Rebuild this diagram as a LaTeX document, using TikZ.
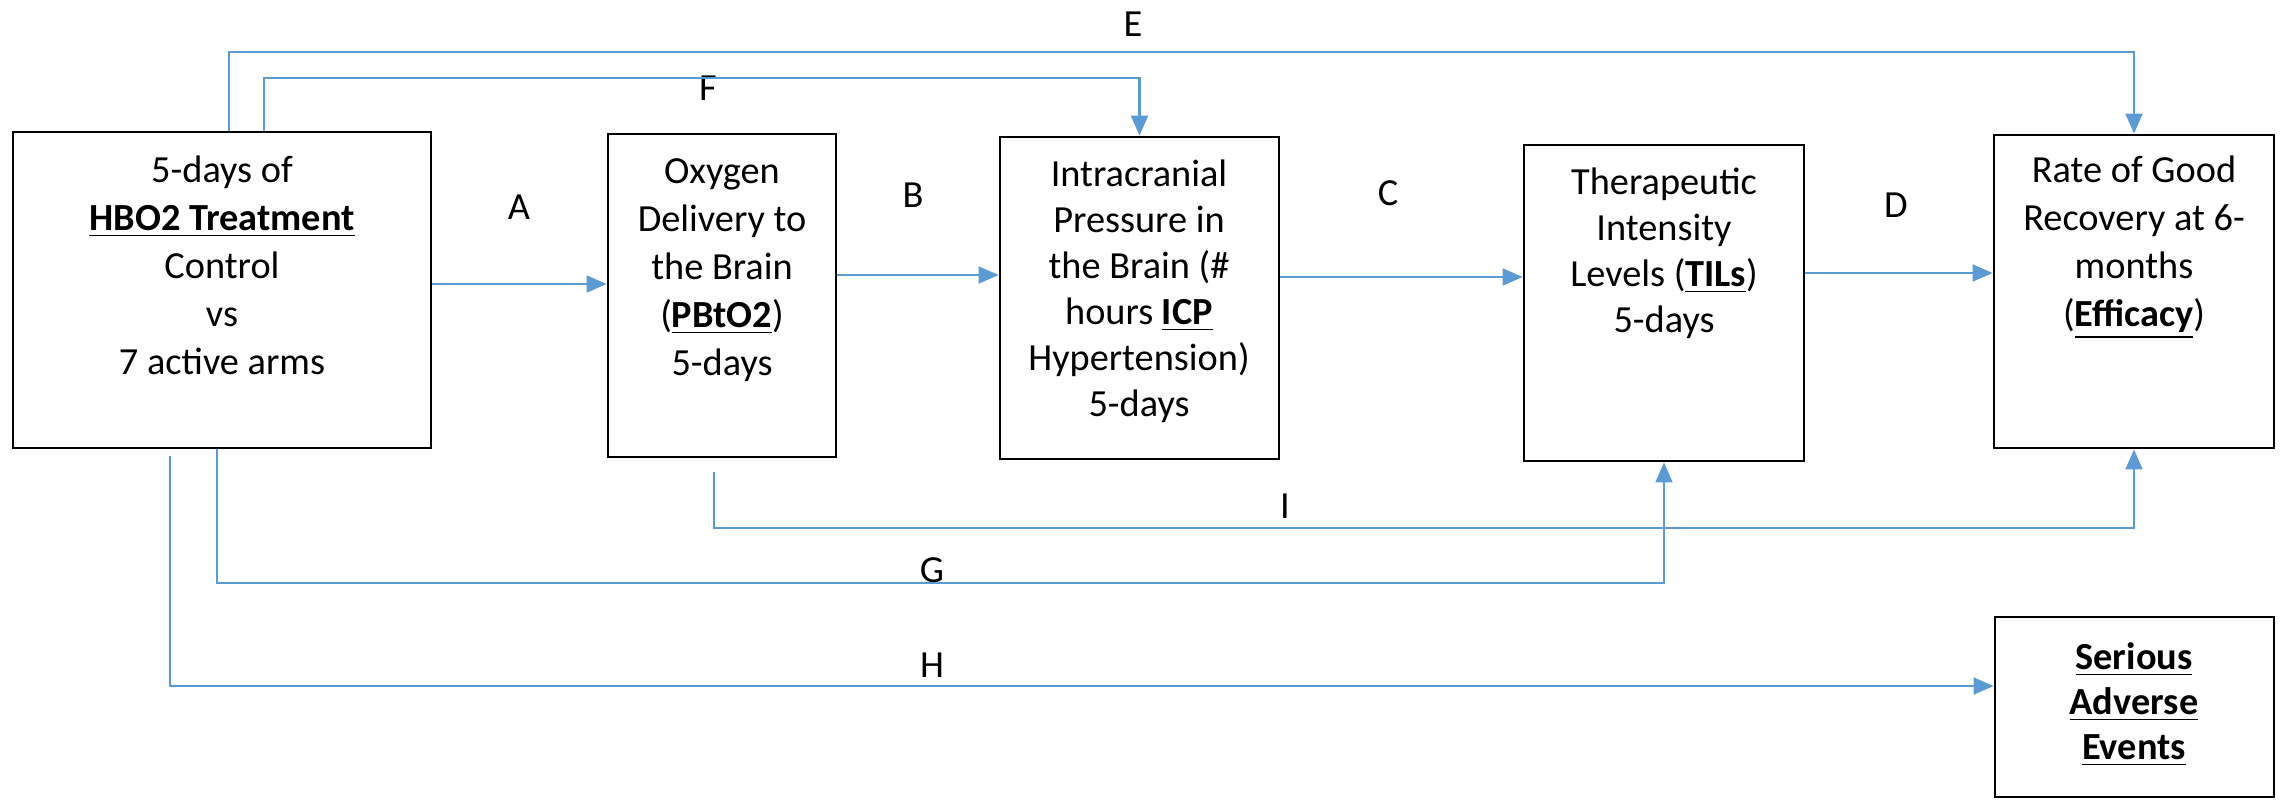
\documentclass[tikz,border=0pt]{standalone}
\usepackage{fontspec}
\setmainfont{Carlito}
\usetikzlibrary{arrows.meta,fit}
\definecolor{linkblue}{RGB}{91,155,213}
\begin{document}
\begin{tikzpicture}[x=0.3pt,y=-0.3pt,
  box/.style={draw=black,line width=0.8pt,inner sep=0pt},
  txt/.style={align=center,inner sep=0pt,anchor=north,font=\fontsize{11.5pt}{14.4pt}\selectfont},
  lbl/.style={inner sep=0pt,font=\fontsize{11.5pt}{14pt}\selectfont},
  conn/.style={draw=linkblue,line width=0.8pt},
  arr/.style={conn,-{Triangle[length=6pt,width=5pt]}}]
\fill[white] (0,0) rectangle (2280,800);
\useasboundingbox (0,0) rectangle (2280,800);

% boxes
\node[box,fit={(13,132) (431,448)}] (b1) {};
\node[box,fit={(608,134) (836,457)}] (b2) {};
\node[box,fit={(1000,137) (1279,459)}] (b3) {};
\node[box,fit={(1524,145) (1804,461)}] (b4) {};
\node[box,fit={(1994,135) (2274,448)}] (b5) {};
\node[box,fit={(1995,617) (2274,797)}] (b6) {};

% texts
\node[txt] (t1) at (222,155) {5-days of\\\underline{\textbf{HBO2 Treatment}}\\Control\\vs\\7 active arms};
\node[txt] (t2) at (722,158) {Oxygen\\Delivery to\\the Brain\\(\underline{\textbf{PBtO2}})\\5-days};
\node[txt,font=\fontsize{11.5pt}{13.8pt}\selectfont] (t3) at (1139,159) {Intracranial\\Pressure in\\the Brain (\#\\hours \underline{\textbf{ICP}}\\Hypertension)\\5-days};
\node[txt,font=\fontsize{11.5pt}{13.8pt}\selectfont] (t4) at (1664,167) {Therapeutic\\Intensity\\Levels (\underline{\textbf{TILs}})\\5-days};
\node[txt] (t5) at (2134,155) {Rate of Good\\Recovery at 6-\\months\\(\underline{\textbf{Efficacy}})};
\node[txt,font=\fontsize{11.5pt}{13.5pt}\selectfont] (t6) at (2134,642) {\underline{\textbf{Serious}}\\\underline{\textbf{Adverse}}\\\underline{\textbf{Events}}};

% labels
\node[lbl] (lA) at (519,207) {A};
\node[lbl] (lB) at (913,195) {B};
\node[lbl] (lC) at (1388,193) {C};
\node[lbl] (lD) at (1896,205) {D};
\node[lbl] (lE) at (1133,24) {E};
\node[lbl] (lF) at (708,88) {F};
\node[lbl] (lG) at (932,570) {G};
\node[lbl] (lH) at (932,665) {H};
\node[lbl] (lI) at (1285,506) {I};

% connectors
\draw[arr] (b1.east |- 0,284) -- (b2.west |- 0,284);
\draw[arr] (b2.east |- 0,275) -- (b3.west |- 0,275);
\draw[arr] (b3.east |- 0,277) -- (b4.west |- 0,277);
\draw[arr] (b4.east |- 0,273) -- (b5.west |- 0,273);
\draw[arr] (b1.north -| 229,0) |- (b5.north |- 0,52) -- (b5.north);
\draw[arr] (b1.north -| 264,0) |- (b3.north |- 0,78) -- (b3.north);
\draw[arr] ([yshift=-4pt]b2.south -| 714,0) |- (b5.south |- 0,528) -- (b5.south);
\draw[arr] (b1.south -| 217,0) |- (b4.south |- 0,583) -- (b4.south);
\draw[arr] ([yshift=-2pt]b1.south -| 170,0) |- (b6.west |- 0,686);
\end{tikzpicture}
\end{document}
